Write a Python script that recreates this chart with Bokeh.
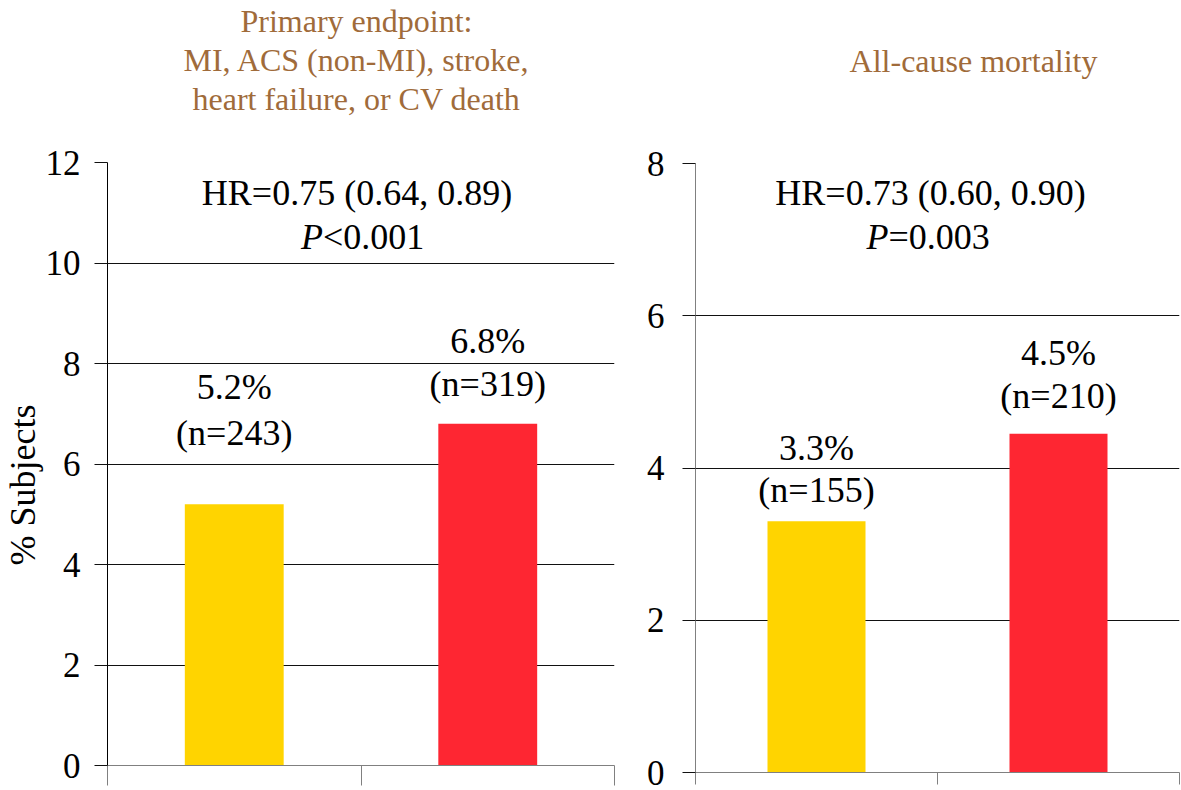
from bokeh.plotting import figure
from bokeh.models import ColumnDataSource, Label, LabelSet, FixedTicker, Range1d, Title
from bokeh.layouts import row, column
from bokeh.embed import file_html
from bokeh.resources import INLINE

# ---------------- data ----------------
arms = ["Treatment", "Control"]

primary_title = ["Primary endpoint:", "MI, ACS (non-MI), stroke,", "heart failure, or CV death"]
primary_pct = [5.2, 6.8]
primary_pct_labels = ["5.2%", "6.8%"]
primary_n_labels = ["(n=243)", "(n=319)"]
primary_hr = "HR=0.75 (0.64, 0.89)"
primary_p = "<0.001"
primary_yticks = [0, 2, 4, 6, 8, 10, 12]
y_label = "% Subjects"

mortality_title = "All-cause mortality"
mortality_pct = [3.3, 4.45]
mortality_pct_labels = ["3.3%", "4.5%"]
mortality_n_labels = ["(n=155)", "(n=210)"]
mortality_hr = "HR=0.73 (0.60, 0.90)"
mortality_p = "=0.003"
mortality_yticks = [0, 2, 4, 6, 8]

# ---------------- style ----------------
FONT = "Liberation Serif"
BAR_COLORS = ["#FFD400", "#FE2632"]
TITLE_COLOR = "#A06B3A"
AXIS_GRAY = "#808080"


def base_figure(width, y_end, yticks, mb_left, mb_right, mb_top, mb_bottom,
                yaxis_color, xtick_out, label_standoff):
    p = figure(width=width, height=790, x_range=Range1d(0, 2), y_range=Range1d(0, y_end),
               output_backend="svg", toolbar_location=None,
               min_border_left=mb_left, min_border_right=mb_right,
               min_border_top=mb_top, min_border_bottom=mb_bottom)
    p.title.visible = False
    p.outline_line_color = None
    p.background_fill_color = "white"
    p.border_fill_color = "white"
    p.xgrid.visible = False
    p.ygrid.ticker = FixedTicker(ticks=yticks)
    p.ygrid.grid_line_color = "#111111"
    p.ygrid.grid_line_width = 1

    ya = p.yaxis[0]
    ya.ticker = FixedTicker(ticks=yticks)
    ya.major_tick_out = 13
    ya.major_tick_in = 0
    ya.minor_tick_line_color = None
    ya.minor_tick_out = 0
    ya.major_tick_line_color = "#111111"
    ya.axis_line_color = yaxis_color
    ya.major_label_text_font = FONT
    ya.major_label_text_font_size = "35px"
    ya.major_label_text_color = "black"
    ya.major_label_standoff = label_standoff

    xa = p.xaxis[0]
    xa.ticker = FixedTicker(ticks=[0, 1, 2])
    xa.major_tick_out = xtick_out
    xa.major_tick_in = 0
    xa.minor_tick_line_color = None
    xa.minor_tick_out = 0
    xa.major_tick_line_color = AXIS_GRAY
    xa.axis_line_color = AXIS_GRAY
    xa.major_label_text_font_size = "0px"
    xa.major_label_text_alpha = 0
    xa.major_label_standoff = 0
    xa.axis_label_standoff = 0
    return p


def add_bars(p, pct, pct_labels, n_labels, width, pct_lift, n_lift):
    xs = [i + 0.5 for i in range(len(arms))]
    src = ColumnDataSource(dict(x=xs, top=pct, color=BAR_COLORS[:len(arms)]))
    p.vbar(x="x", top="top", bottom=0, width=width, fill_color="color", line_color=None, source=src)
    lab = ColumnDataSource(dict(
        x=xs + xs,
        y=list(pct) + list(pct),
        text=list(pct_labels) + list(n_labels),
        off=list(pct_lift) + list(n_lift),
    ))
    p.add_layout(LabelSet(x="x", y="y", text="text", y_offset="off", source=lab,
                          text_align="center", text_baseline="middle",
                          text_font=FONT, text_font_size="36px", text_color="black"))


def add_text(p, text, x, y, x_offset=0, align="center", style="normal"):
    p.add_layout(Label(x=x, y=y, x_units="data", y_units="screen", x_offset=x_offset,
                       text=text, text_align=align, text_baseline="middle",
                       text_font=FONT, text_font_size="36px", text_color="black",
                       text_font_style=style))


def add_title(p, text, align, offset, standoff=1, side="above", size="32px", color=TITLE_COLOR):
    p.add_layout(Title(text=text, align=align, offset=offset, standoff=standoff,
                       text_font=FONT, text_font_size=size, text_font_style="normal",
                       text_color=color), side)


# ---------------- left panel ----------------
p1 = base_figure(640, 12, primary_yticks, 104, 26, 162, 25, "black", 20, 14)
add_bars(p1, primary_pct, primary_pct_labels, primary_n_labels, 0.39,
         [117, 83], [71, 40])
add_title(p1, " ", "left", 0, standoff=7)          # spacer between frame and title block
title_offsets = [133, 76, 85]
for line, off in reversed(list(zip(primary_title, title_offsets))):
    add_title(p1, line, "left", off)
add_text(p1, primary_hr, 1, 573, x_offset=-4)
add_text(p1, "P", 1, 529, x_offset=-38, align="right", style="italic")
add_text(p1, primary_p, 1, 529, x_offset=-38, align="left")
add_title(p1, y_label, "left", 200, standoff=0, side="left", size="36px", color="black")

# ---------------- right panel ----------------
p2 = base_figure(541, 8, mortality_yticks, 55, 2, 163, 18, AXIS_GRAY, 12, 18)
add_bars(p2, mortality_pct, mortality_pct_labels, mortality_n_labels, 0.405,
         [73, 81], [31, 38])
add_title(p2, " ", "left", 0, standoff=46)         # spacer between frame and title
add_title(p2, mortality_title, "right", 82)
add_text(p2, mortality_hr, 1, 580, x_offset=-7)
add_text(p2, "P", 1, 536, x_offset=-49, align="right", style="italic")
add_text(p2, mortality_p, 1, 536, x_offset=-49, align="left")

layout = row(column(p1), column(p2))
open("out.html", "w").write(file_html(layout, INLINE))
